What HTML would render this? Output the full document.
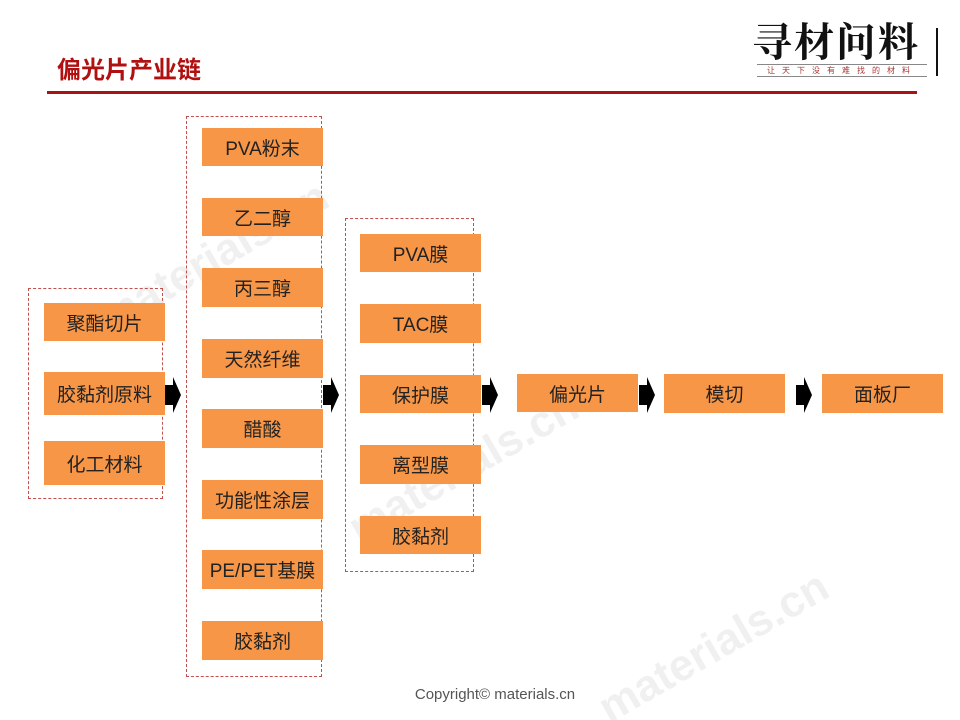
<!DOCTYPE html>
<html><head><meta charset="utf-8">
<style>
body{margin:0;background:#fff;}
#c{position:relative;width:960px;height:720px;overflow:hidden;font-family:"Liberation Sans","Noto Sans CJK SC",sans-serif;}
.b{position:absolute;background:#f79646;color:#222;font-size:19px;display:flex;align-items:center;justify-content:center;width:121px;height:38px;}
.d{position:absolute;border:1px dashed #c0504d;}
.wm{position:absolute;color:rgba(200,200,200,0.28);font-size:44px;font-weight:bold;transform:rotate(-30deg);transform-origin:left top;white-space:nowrap;}
</style></head><body><div id="c">
<div class="wm" style="left:90px;top:300px;">materials.cn</div>
<div class="wm" style="left:340px;top:510px;">materials.cn</div>
<div class="wm" style="left:590px;top:690px;">materials.cn</div>

<div style="position:absolute;left:57px;top:50px;color:#b01010;font-size:24px;font-weight:bold;">偏光片产业链</div>
<div style="position:absolute;left:47px;top:91px;width:870px;height:3px;background:#a81414;"></div>

<div style="position:absolute;left:752px;top:18px;font-size:40px;font-family:'Noto Serif CJK SC','WenQuanYi Zen Hei',serif;font-weight:bold;color:#111;letter-spacing:2px;line-height:44px;">寻材问料</div>
<div style="position:absolute;left:757px;top:64px;width:170px;border-top:1px solid #888;border-bottom:1px solid #888;font-size:8px;color:#a33;text-align:center;letter-spacing:7px;line-height:11px;">让天下没有难找的材料</div>
<div style="position:absolute;left:936px;top:28px;width:2px;height:48px;background:#111;"></div>

<div class="d" style="left:28px;top:288px;width:133px;height:209px;"></div>
<div class="d" style="left:186px;top:116px;width:134px;height:559px;"></div>
<div class="d" style="left:345px;top:218px;width:127px;height:352px;"></div>

<div class="b" style="left:44px;top:303px;">聚酯切片</div>
<div class="b" style="left:44px;top:372px;height:43px;">胶黏剂原料</div>
<div class="b" style="left:44px;top:441px;height:44px;">化工材料</div>

<div class="b" style="left:202px;top:128px;">PVA粉末</div>
<div class="b" style="left:202px;top:198px;">乙二醇</div>
<div class="b" style="left:202px;top:268px;height:39px;">丙三醇</div>
<div class="b" style="left:202px;top:339px;height:39px;">天然纤维</div>
<div class="b" style="left:202px;top:409px;height:39px;">醋酸</div>
<div class="b" style="left:202px;top:480px;height:39px;">功能性涂层</div>
<div class="b" style="left:202px;top:550px;height:39px;">PE/PET基膜</div>
<div class="b" style="left:202px;top:621px;height:39px;">胶黏剂</div>

<div class="b" style="left:360px;top:234px;">PVA膜</div>
<div class="b" style="left:360px;top:304px;height:39px;">TAC膜</div>
<div class="b" style="left:360px;top:375px;">保护膜</div>
<div class="b" style="left:360px;top:445px;height:39px;">离型膜</div>
<div class="b" style="left:360px;top:516px;">胶黏剂</div>

<div class="b" style="left:517px;top:374px;">偏光片</div>
<div class="b" style="left:664px;top:374px;height:39px;">模切</div>
<div class="b" style="left:822px;top:374px;height:39px;">面板厂</div>

<svg width="960" height="720" style="position:absolute;left:0;top:0;">
<g fill="#000">
<polygon points="165,385 173,385 173,377 181,395 173,413 173,405 165,405"/>
<polygon points="323,385 331,385 331,377 339,395 331,413 331,405 323,405"/>
<polygon points="482,385 490,385 490,377 498,395 490,413 490,405 482,405"/>
<polygon points="639,385 647,385 647,377 655,395 647,413 647,405 639,405"/>
<polygon points="796,385 804,385 804,377 812,395 804,413 804,405 796,405"/>
</g></svg>

<div style="position:absolute;left:0;width:990px;top:686px;text-align:center;font-size:15px;color:#555;">Copyright© materials.cn</div>
</div></body></html>
